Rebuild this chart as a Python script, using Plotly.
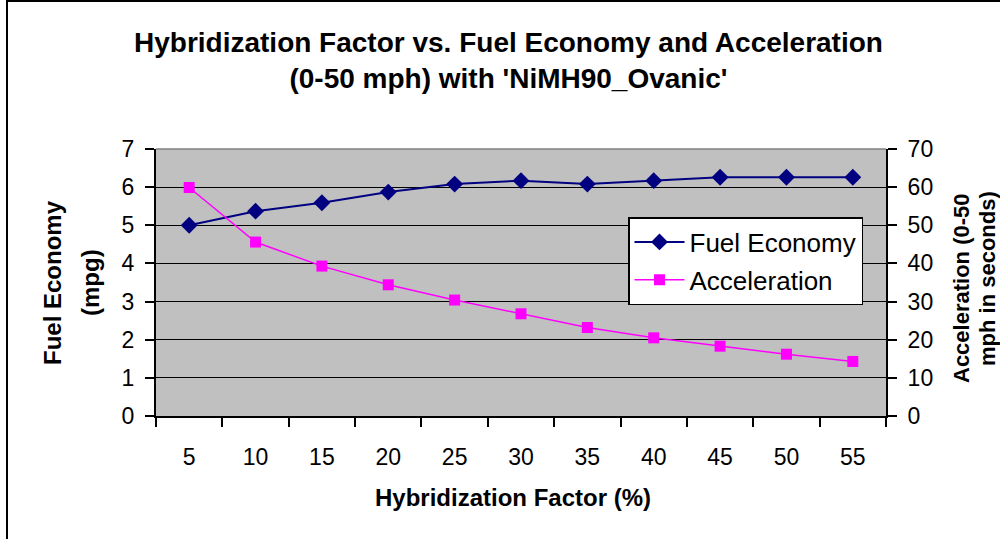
import plotly.graph_objects as go

hybrid_factor = [5, 10, 15, 20, 25, 30, 35, 40, 45, 50, 55]
fuel_economy = [5.0, 5.37, 5.59, 5.87, 6.08, 6.17, 6.08, 6.17, 6.26, 6.26, 6.26]
acceleration = [59.9, 45.6, 39.3, 34.4, 30.4, 26.8, 23.2, 20.5, 18.3, 16.2, 14.3]

FONT = "Arial, Liberation Sans, sans-serif"
L, R, T, B = 156, 886, 149, 416
PW, PH = R - L, B - T


def px(xp):
    return (xp - L) / PW


def py(yp):
    return (B - yp) / PH


fig = go.Figure()
fig.add_trace(go.Scatter(
    x=hybrid_factor, y=fuel_economy, name="Fuel Economy", mode="lines+markers",
    legendgroup="a",
    line=dict(color="#000080", width=2),
    marker=dict(symbol="diamond", size=13, color="#000080"),
))
fig.add_trace(go.Scatter(
    x=hybrid_factor, y=acceleration, name="Acceleration", mode="lines+markers",
    yaxis="y2", legendgroup="b",
    line=dict(color="#FF00FF", width=1.5),
    marker=dict(symbol="square", size=11, color="#FF00FF"),
))

fig.update_layout(
    width=1000, height=539,
    margin=dict(l=L, r=1000 - R, t=T, b=539 - B),
    paper_bgcolor="white",
    plot_bgcolor="#C0C0C0",
    font=dict(family=FONT, color="black", size=23),
    xaxis=dict(
        range=[2.5, 57.5], tickmode="array", tickvals=hybrid_factor,
        ticktext=[str(v) for v in hybrid_factor],
        ticks="", showgrid=False, zeroline=False,
        showline=True, linecolor="black", linewidth=2,
        ticklabelstandoff=19,
        minor=dict(ticks="outside", tick0=2.5, dtick=5, ticklen=9, tickcolor="black", tickwidth=1.5, showgrid=False),
        fixedrange=True,
    ),
    yaxis=dict(
        range=[0, 7], dtick=1, tick0=0,
        ticks="outside", ticklen=9, tickcolor="black", tickwidth=1.5,
        ticklabelstandoff=6,
        showgrid=True, gridcolor="black", gridwidth=1.3,
        zeroline=False, showline=True, linecolor="black", linewidth=2,
    ),
    yaxis2=dict(
        range=[0, 70], dtick=10, tick0=0, overlaying="y", side="right",
        ticks="outside", ticklen=9, tickcolor="black", tickwidth=1.5,
        ticklabelstandoff=6,
        showgrid=False, zeroline=False, showline=True, linecolor="black", linewidth=2,
    ),
    legend=dict(
        x=px(628), y=py(217), xanchor="left", yanchor="top",
        bgcolor="white", bordercolor="black", borderwidth=1.5,
        font=dict(size=26), itemwidth=50, traceorder="grouped", tracegroupgap=1,
    ),
    showlegend=True,
)

ann = dict(xref="paper", yref="paper", showarrow=False, font=dict(family=FONT, color="black"))
fig.add_annotation(**ann, x=px(508), y=py(60), xanchor="center", yanchor="middle",
                   text="<b>Hybridization Factor vs. Fuel Economy and Acceleration<br>(0-50 mph) with 'NiMH90_Ovanic'</b>")
fig.layout.annotations[-1].font.size = 28
fig.add_annotation(**ann, x=px(513), y=py(497), xanchor="center", yanchor="middle",
                   text="<b>Hybridization Factor (%)</b>")
fig.layout.annotations[-1].font.size = 24
fig.add_annotation(**ann, x=px(52), y=py(283), xanchor="center", yanchor="middle", textangle=-90,
                   text="<b>Fuel Economy</b>")
fig.layout.annotations[-1].font.size = 24
fig.add_annotation(**ann, x=px(90), y=py(283), xanchor="center", yanchor="middle", textangle=-90,
                   text="<b>(mpg)</b>")
fig.layout.annotations[-1].font.size = 24
fig.add_annotation(**ann, x=px(961), y=py(288), xanchor="center", yanchor="middle", textangle=-90,
                   text="<b>Acceleration (0-50</b>")
fig.layout.annotations[-1].font.size = 22
fig.add_annotation(**ann, x=px(987), y=py(279), xanchor="center", yanchor="middle", textangle=-90,
                   text="<b>mph in seconds)</b>")
fig.layout.annotations[-1].font.size = 22

# outer chart frame and plot-area top border
fig.add_shape(type="rect", xref="paper", yref="paper",
              x0=px(7), x1=px(1100), y0=py(700), y1=py(1),
              line=dict(color="black", width=2), layer="above")
fig.add_shape(type="line", xref="paper", yref="paper",
              x0=0, x1=1, y0=1, y1=1, line=dict(color="#808080", width=1.5))

fig.write_html("out.html")
